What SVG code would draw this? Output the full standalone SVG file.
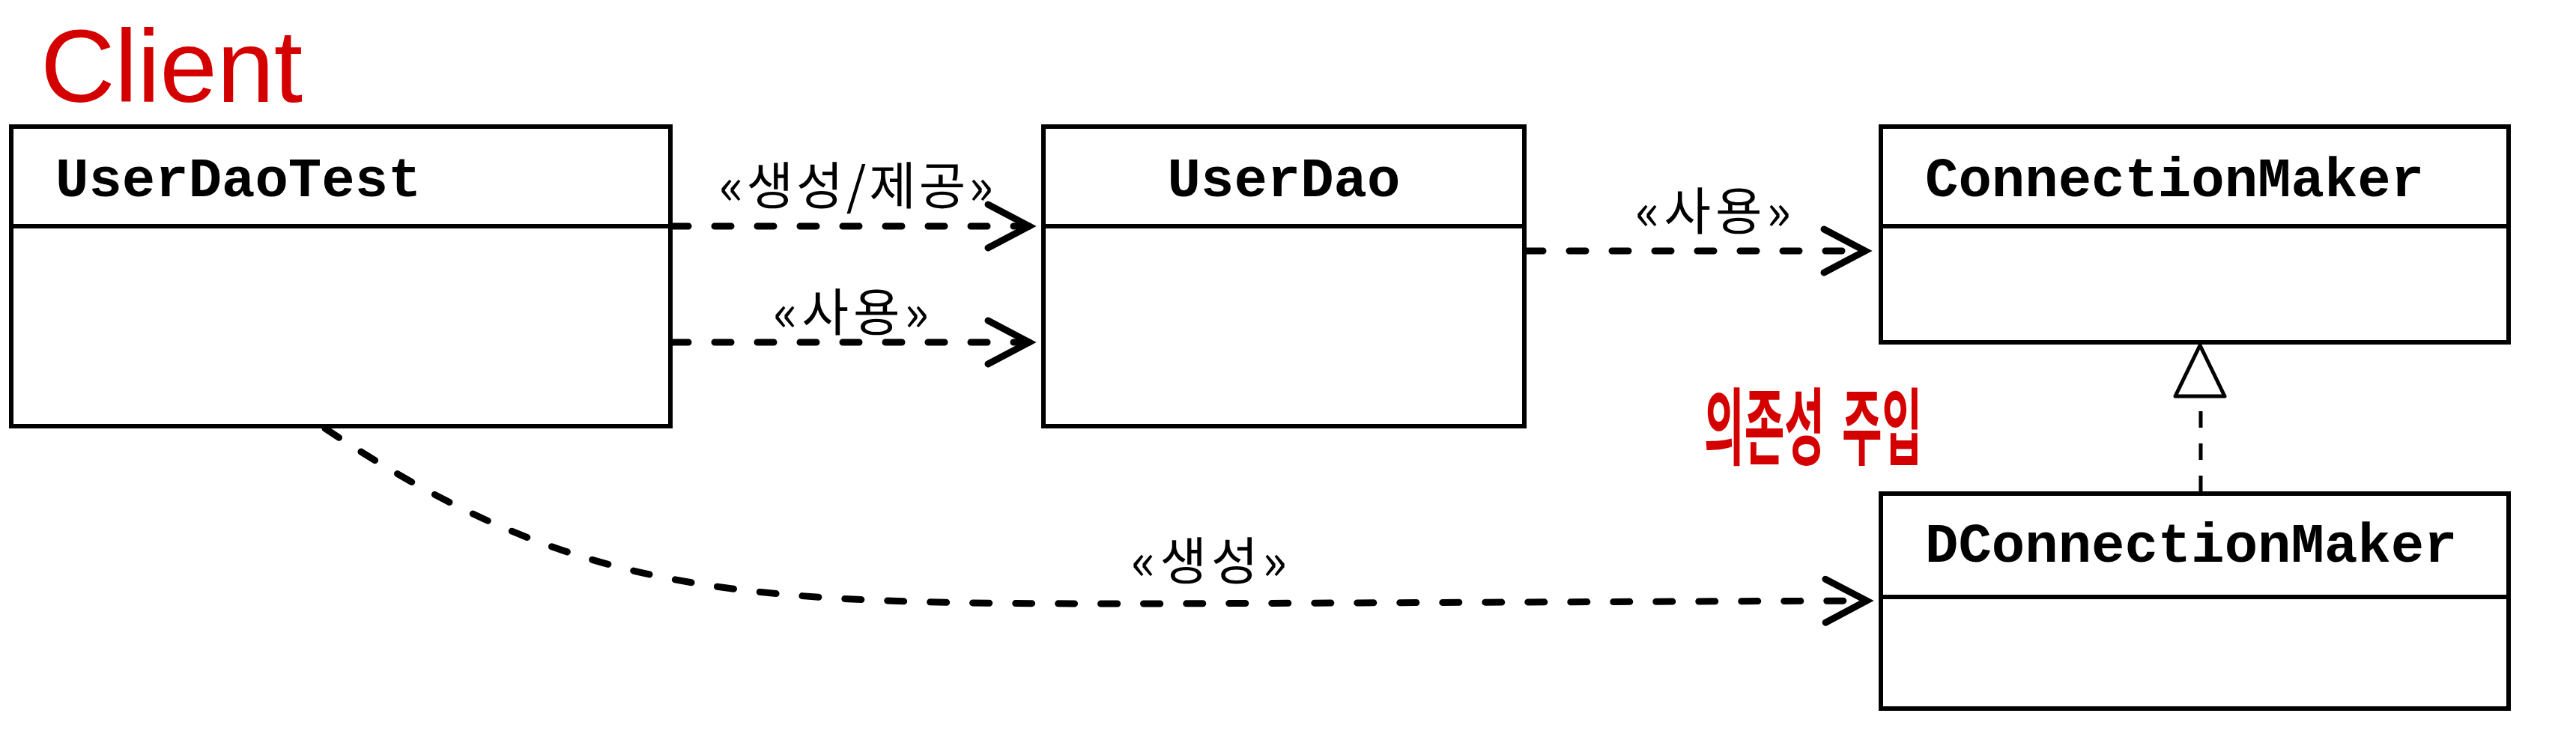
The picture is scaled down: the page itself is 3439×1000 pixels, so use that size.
<svg xmlns="http://www.w3.org/2000/svg" width="3439" height="1000" viewBox="0 0 3439 1000">
<style>
.box{fill:#fff;stroke:#000;stroke-width:6}
.div{stroke:#000;stroke-width:6}
.cls{font-family:"Liberation Mono","DejaVu Sans Mono",monospace;font-weight:bold;font-size:74px;fill:#000}
.lbl{font-family:"Noto Sans CJK KR","Noto Sans",sans-serif;font-size:68px;fill:#000;text-anchor:middle}
.dep{fill:none;stroke:#000;stroke-width:9;stroke-dasharray:22 35;stroke-linecap:round}
.real{fill:none;stroke:#000;stroke-width:5;stroke-dasharray:22 21}
.red{fill:#d40000}
</style>
<defs>
<marker id="open" viewBox="-70 -40 80 80" refX="0" refY="0" markerWidth="80" markerHeight="80" markerUnits="userSpaceOnUse" orient="auto">
<path d="M-55,-29 L0,0 L-55,29" fill="none" stroke="#000" stroke-width="9" stroke-linecap="round" stroke-linejoin="miter"/>
</marker>
</defs>
<rect width="3439" height="1000" fill="#fff"/>
<text class="red" x="54" y="136" font-family="Liberation Sans, sans-serif" font-size="138" textLength="350">Client</text>
<text class="red" transform="translate(2275,612) scale(0.54,1.04)" font-family="Noto Sans CJK KR, sans-serif" font-weight="bold" font-size="108" word-spacing="18">의존성 주입</text>
<g id="UserDaoTest">
<rect class="box" x="15" y="169" width="880" height="400"/>
<line class="div" x1="15" y1="302" x2="895" y2="302"/>
<text class="cls" x="74" y="262">UserDaoTest</text>
</g>
<g id="UserDao">
<rect class="box" x="1393" y="169" width="642" height="400"/>
<line class="div" x1="1393" y1="302" x2="2035" y2="302"/>
<text class="cls" x="1714" y="262" text-anchor="middle">UserDao</text>
</g>
<g id="ConnectionMaker">
<rect class="box" x="2511" y="169" width="838" height="288"/>
<line class="div" x1="2511" y1="302" x2="3349" y2="302"/>
<text class="cls" x="2570" y="262">ConnectionMaker</text>
</g>
<g id="DConnectionMaker">
<rect class="box" x="2511" y="659" width="838" height="287"/>
<line class="div" x1="2511" y1="797" x2="3349" y2="797"/>
<text class="cls" x="2570" y="750">DConnectionMaker</text>
</g>
<g id="connectors">
<path class="dep" d="M897,302 L1374,302" marker-end="url(#open)"/>
<text class="lbl" x="1143" y="273" textLength="366">«생성/제공»</text>
<path class="dep" d="M897,457 L1374,457" marker-end="url(#open)"/>
<text class="lbl" x="1136" y="442" textLength="208">«사용»</text>
<path class="dep" d="M2038,335 L2490,335" marker-end="url(#open)"/>
<text class="lbl" x="2287" y="307" textLength="208">«사용»</text>
<path class="dep" d="M434,572 C784,806 1000,806 1551,806 L2492,802" marker-end="url(#open)"/>
<text class="lbl" x="1614" y="774" textLength="208">«생성»</text>
<line class="real" x1="2938" y1="657" x2="2938" y2="531"/>
<polygon points="2937,461 2970,529 2904,529" fill="#fff" stroke="#000" stroke-width="5" stroke-linejoin="round"/>
</g>
</svg>
